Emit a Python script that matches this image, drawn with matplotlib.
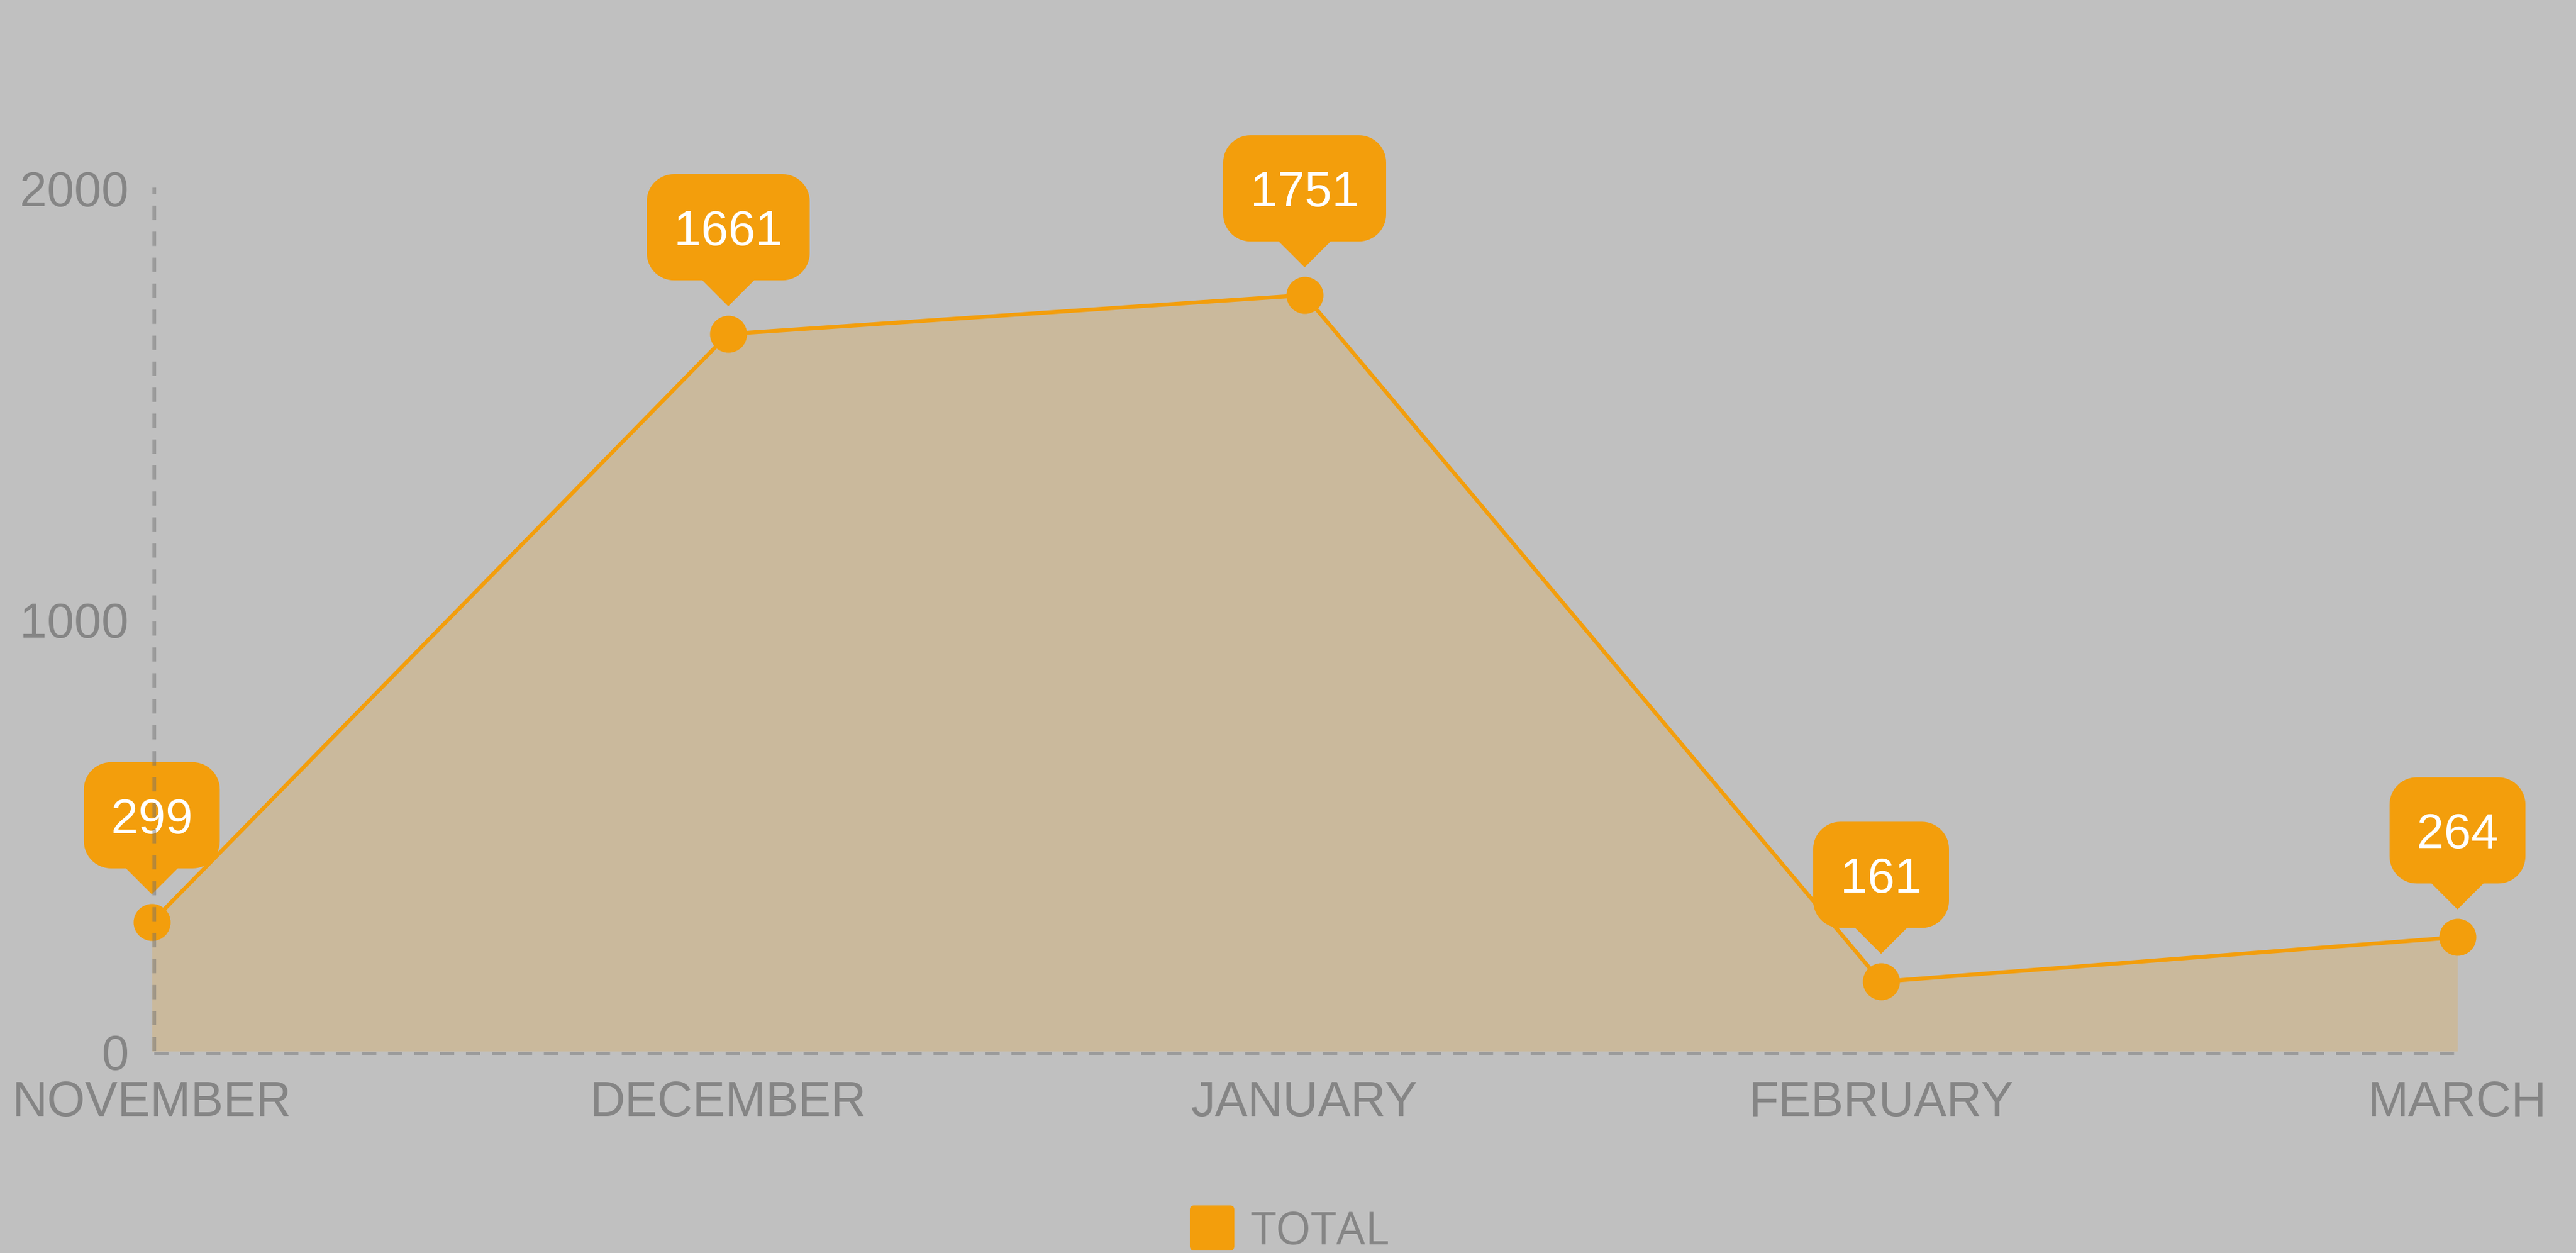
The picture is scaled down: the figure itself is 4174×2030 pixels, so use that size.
import numpy as np
import matplotlib
matplotlib.use("Agg")
import matplotlib.pyplot as plt
import matplotlib.transforms as mtransforms
from matplotlib.patches import FancyBboxPatch, PathPatch
from matplotlib.path import Path
from matplotlib.lines import Line2D

# ---- data ----
months = ["NOVEMBER", "DECEMBER", "JANUARY", "FEBRUARY", "MARCH"]
totals = [299, 1661, 1751, 161, 264]
y_ticks = [0, 1000, 2000]
series_name = "TOTAL"

# ---- style ----
W, H, DPI = 4174, 2031, 100
BG = "#c0c0c0"
ORANGE = "#F39E0C"
GRAY_TXT = "#858585"
plt.rcParams["lines.scale_dashes"] = False

fig = plt.figure(figsize=(W / DPI, H / DPI), dpi=DPI, facecolor=BG)
ax = fig.add_axes([246 / W, (H - 1704) / H, (3982 - 246) / W, (1704 - 305) / H])
ax.set_facecolor("none")

x = list(range(len(months)))
ax.set_xlim(0, len(months) - 1)
ax.set_ylim(0, 2000)

# area + line + markers
ax.fill_between(x, 0, totals, color=ORANGE, alpha=0.2, linewidth=0, zorder=1)
ax.plot(x, totals, color=ORANGE, linewidth=4.6, zorder=3, clip_on=False,
        solid_joinstyle="round")
ax.plot(x, totals, linestyle="none", marker="o", markersize=43.2,
        markerfacecolor=ORANGE, markeredgewidth=0, zorder=4, clip_on=False)

# axes styling
for s in ax.spines.values():
    s.set_visible(False)
ax.set_xticks(x)
ax.set_xticklabels(months)
ax.set_yticks(y_ticks)
ax.set_yticklabels([str(v) for v in y_ticks])
ax.tick_params(axis="both", length=0, labelsize=57, labelcolor=GRAY_TXT)
ax.tick_params(axis="x", pad=33)
ax.tick_params(axis="y", pad=27)
for lab in ax.get_xticklabels() + ax.get_yticklabels():
    lab.set_family(["Liberation Sans", "DejaVu Sans"])

# dashed axis lines
axis_col = (0.43, 0.43, 0.43, 0.45)
lw_axis = 4.3
vline = Line2D([0, 0], [0, 1], transform=ax.transAxes + mtransforms.Affine2D().translate(4, 0),
               color=axis_col, linewidth=lw_axis, dashes=(16.6, 13.7), zorder=20, clip_on=False)
hline = Line2D([0, 1], [0, 0], transform=ax.transAxes + mtransforms.Affine2D().translate(4, -4),
               color=axis_col, linewidth=lw_axis, dashes=(16.6, 13.7), zorder=0.5, clip_on=False)
ax.add_line(vline)
ax.add_line(hline)


def callout_path(bw, y0=87, h=172, r=44, tri_w=42, tip=45):
    """Rounded rectangle with a downward pointer, in pixel offsets."""
    hw = bw / 2
    y1 = y0 + h
    pts = []

    def arc(cx, cy, a0, a1):
        for a in np.linspace(np.radians(a0), np.radians(a1), 16):
            pts.append((cx + r * np.cos(a), cy + r * np.sin(a)))

    pts.append((0, tip))
    pts.append((tri_w, y0))
    arc(hw - r, y0 + r, -90, 0)
    arc(hw - r, y1 - r, 0, 90)
    arc(-hw + r, y1 - r, 90, 180)
    arc(-hw + r, y0 + r, 180, 270)
    pts.append((-tri_w, y0))
    pts.append((0, tip))
    codes = [Path.MOVETO] + [Path.LINETO] * (len(pts) - 2) + [Path.CLOSEPOLY]
    return Path(pts, codes)


# callout labels
renderer = fig.canvas.get_renderer()
for xi, v in zip(x, totals):
    trans = mtransforms.Affine2D() + mtransforms.ScaledTranslation(xi, v, ax.transData)
    t = ax.text(0, 145, str(v), transform=trans, ha="center", va="baseline",
                fontsize=57, color="white", family=["Liberation Sans", "DejaVu Sans"],
                zorder=12, clip_on=False)
    tw = t.get_window_extent(renderer).width
    bw = tw + 2 * 44
    patch = PathPatch(callout_path(bw), transform=trans, facecolor=ORANGE,
                      edgecolor="none", zorder=11, clip_on=False)
    ax.add_patch(patch)

# legend (manual)
ident = mtransforms.IdentityTransform()
sq = FancyBboxPatch((1928, 4), 72, 73, boxstyle="round,pad=0,rounding_size=7",
                    transform=ident, facecolor=ORANGE, edgecolor="none")
fig.patches.append(sq)
fig.text(2026 / W, 15 / H, series_name, ha="left", va="baseline", fontsize=53.4,
         color=GRAY_TXT, family=["Open Sans", "DejaVu Sans"])

fig.savefig("out.png", dpi=DPI, facecolor=BG)
